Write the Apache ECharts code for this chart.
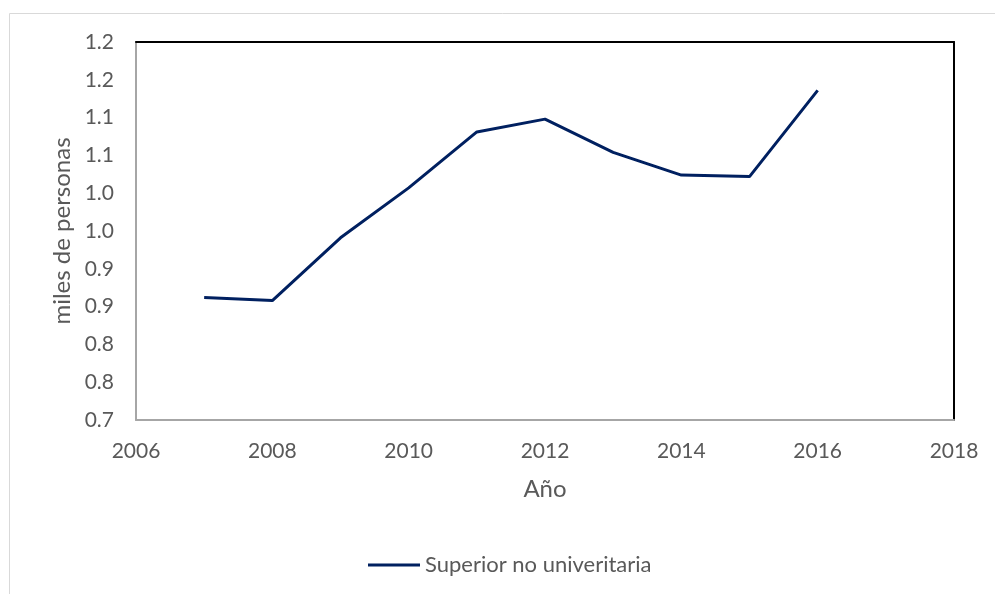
<!DOCTYPE html>
<html>
<head>
<meta charset="utf-8">
<title>Superior no univeritaria</title>
<script src="https://cdn.jsdelivr.net/npm/echarts@6/dist/echarts.min.js"></script>
<style>
  html, body { margin: 0; padding: 0; background: #fff; }
  #chart { width: 995px; height: 594px; }
</style>
</head>
<body>
<div id="chart"></div>
<script>
// años y valores (miles de personas)
const years = [2007, 2008, 2009, 2010, 2011, 2012, 2013, 2014, 2015, 2016];
const values = [0.862, 0.858, 0.941, 1.007, 1.081, 1.098, 1.054, 1.024, 1.022, 1.136];
// etiquetas del eje Y tal como aparecen (redondeadas a 1 decimal)
const yTickLabels = ['0.7', '0.8', '0.8', '0.9', '0.9', '1.0', '1.0', '1.1', '1.1', '1.2', '1.2'];
const seriesName = 'Superior no univeritaria';

const font = 'Lato, "Open Sans", sans-serif';
const grey = '#595959';

const chart = echarts.init(document.getElementById('chart'));
chart.setOption({
  animation: false,
  textStyle: { fontFamily: font },
  graphic: [{
    type: 'rect',
    shape: { x: 9.5, y: 13.5, width: 1100, height: 700 },
    style: { fill: 'none', stroke: '#d9d9d9', lineWidth: 1 },
    silent: true
  }],
  grid: { left: 136, right: 41, top: 42, bottom: 174 },
  legend: {
    data: [seriesName],
    left: 363,
    top: 549,
    icon: 'rect',
    itemWidth: 52,
    itemHeight: 3,
    textStyle: { color: grey, fontSize: 22, fontFamily: font }
  },
  xAxis: [{
    type: 'value',
    min: 2006,
    max: 2018,
    interval: 2,
    name: 'Año',
    nameLocation: 'middle',
    nameGap: 57,
    nameTextStyle: { color: grey, fontSize: 24, fontFamily: font },
    axisLine: { show: true, lineStyle: { color: '#a6a6a6', width: 2 } },
    axisTick: { show: false },
    splitLine: { show: false },
    axisLabel: {
      color: grey,
      fontSize: 21,
      fontFamily: font,
      margin: 21,
      formatter: function (v) { return String(v); }
    }
  }, {
    type: 'value',
    position: 'top',
    min: 2006,
    max: 2018,
    axisLine: { show: true, onZero: false, lineStyle: { color: '#000', width: 2 } },
    axisTick: { show: false },
    axisLabel: { show: false },
    splitLine: { show: false }
  }],
  yAxis: [{
    type: 'value',
    min: 0.7,
    max: 1.2,
    interval: 0.05,
    name: 'miles de personas',
    nameLocation: 'middle',
    nameGap: 62,
    nameTextStyle: { color: grey, fontSize: 24, fontFamily: font },
    axisLine: { show: true, lineStyle: { color: '#a6a6a6', width: 2 } },
    axisTick: { show: false },
    splitLine: { show: false },
    axisLabel: {
      color: grey,
      fontSize: 21,
      fontFamily: font,
      margin: 22,
      formatter: function (v) {
        return yTickLabels[Math.round((v - 0.7) / 0.05)];
      }
    }
  }, {
    type: 'value',
    position: 'right',
    min: 0.7,
    max: 1.2,
    axisLine: { show: true, onZero: false, lineStyle: { color: '#000', width: 2 } },
    axisTick: { show: false },
    axisLabel: { show: false },
    splitLine: { show: false }
  }],
  series: [{
    name: seriesName,
    type: 'line',
    xAxisIndex: 0,
    yAxisIndex: 0,
    data: years.map((y, i) => [y, values[i]]),
    showSymbol: false,
    symbol: 'none',
    lineStyle: { color: '#002060', width: 3 },
    itemStyle: { color: '#002060' }
  }]
});
</script>
</body>
</html>
